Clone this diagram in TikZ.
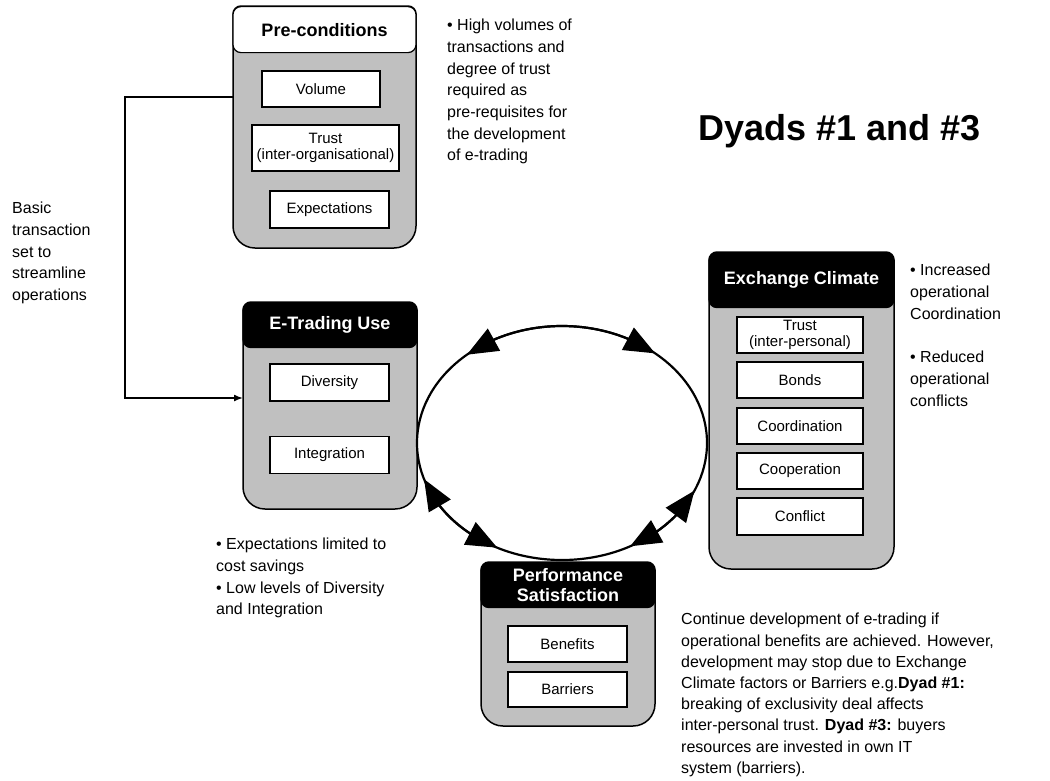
\documentclass[tikz,border=0pt]{standalone}
\usepackage{fontspec}
\setmainfont{Liberation Sans}
\usetikzlibrary{positioning, calc, arrows.meta, bending}
\definecolor{panelgray}{HTML}{C0C0C0}
\newcommand\panelshape[1]{\draw[panel] (#1.west) [rounded corners=8pt] -- (#1.north west) -- (#1.north east) -- (#1.east) [rounded corners=22pt] -- (#1.south east) -- (#1.south west) -- cycle;}

\begin{document}
\begin{tikzpicture}[x=1pt, y=-1pt,
	area/.style={inner sep=0pt, outer sep=0pt},
	panel/.style={draw, fill=panelgray, line width=1.5pt},
	head/.style={draw, fill=black, text=white, rounded corners=8pt, line width=1.2pt, inner sep=0pt, anchor=north, font=\bfseries\fontsize{18}{19.5}\selectfont, align=center},
	item/.style={draw, fill=white, line width=1.2pt, inner sep=0pt, font=\fontsize{15}{15.5}\selectfont, align=center},
	note/.style={anchor=north west, inner sep=0pt, align=left, font=\fontsize{16}{21.7}\selectfont},
	loopline/.style={line width=2.2pt},
	cyc/.style={loopline, {Triangle[length=31pt,width=25pt,flex]}-{Triangle[length=31pt,width=25pt,flex]}}]
	\useasboundingbox (0,0) rectangle (1050,780);

	% panels
	\node[area, minimum width=183, minimum height=242] (pre) at (324.5,127) {};
	\node[area, minimum width=174, minimum height=207] (etu) at (330,405.5) {};
	\node[area, minimum width=185, minimum height=317] (ec) at (801.5,410.5) {};
	\node[area, minimum width=174, minimum height=164] (ps) at (568,644) {};
	\panelshape{pre}
	\panelshape{etu}
	\panelshape{ec}
	\panelshape{ps}

	\node[head, fill=white, text=black, minimum width=183, minimum height=46] (preh) at (pre.north) {Pre-conditions};
	\node[head, minimum width=174, minimum height=45] (etuh) at (etu.north) {E-Trading Use};
	\node[head, minimum width=185, minimum height=55] (ech) at (ec.north) {Exchange Climate};
	\node[head, minimum width=174, minimum height=45] (psh) at (ps.north) {Performance\\Satisfaction};

	% items
	\node[item, minimum width=118, minimum height=36] (volume) at (321,89) {Volume};
	\node[item, minimum width=147, minimum height=46] (trusto) at (325.5,148) {Trust\\(inter-organisational)};
	\node[item, minimum width=119, minimum height=37] (expect) at (329.5,209.5) {Expectations};
	\node[item, minimum width=119, minimum height=37] (divers) at (329.5,382.5) {Diversity};
	\node[item, minimum width=119, minimum height=37] (integr) at (329.5,455) {Integration};
	\node[item, minimum width=126, minimum height=36] (trustp) at (800,335) {Trust\\(inter-personal)};
	\node[item, minimum width=126, minimum height=36] (bonds) at (800,380) {Bonds};
	\node[item, minimum width=126, minimum height=36] (coord) at (800,426) {Coordination};
	\node[item, minimum width=126, minimum height=36] (coop) at (800,471) {Cooperation};
	\node[item, minimum width=126, minimum height=37] (confl) at (800,516.5) {Conflict};
	\node[item, minimum width=119, minimum height=36] (benef) at (567.5,644) {Benefits};
	\node[item, minimum width=119, minimum height=35] (barr) at (567.5,689.5) {Barriers};

	% cycle
	\coordinate (ring) at (562,443);
	\draw[loopline] (ring) ellipse[x radius=145, y radius=117];
	\draw[cyc] ($(ring)+(-131:145 and 117)$) arc[start angle=-131, end angle=-50, x radius=145, y radius=117];
	\draw[cyc] ($(ring)+(162:145 and 117)$) arc[start angle=162, end angle=116.5, x radius=145, y radius=117];
	\draw[cyc] ($(ring)+(24:145 and 117)$) arc[start angle=24, end angle=62, x radius=145, y radius=117];

	% link
	\coordinate (tl) at (125,97);
	\coordinate (bl) at (125,398);
	\draw[line width=1.5pt, -{Latex[length=9pt,width=7pt]}] (tl -| pre.west) -- (tl) -- (bl) -- (bl -| etu.west);

	% notes
	\node[note] (basic) at (12,202) {Basic\\transaction\\set to\\streamline\\operations};
	\node[note] (high) at (447,19) {• High volumes of\\transactions and\\degree of trust\\required as\\pre-requisites for\\the development\\of e-trading};
	\node[anchor=north west, inner sep=0pt, font=\bfseries\fontsize{36}{40}\selectfont] (title) at (698,114) {Dyads \#1 and \#3};
	\node[note] (ecnote) at (910,264) {• Increased\\operational\\Coordination\\[21.7pt]• Reduced\\operational\\conflicts};
	\node[note] (etunote) at (216,538) {• Expectations limited to\\cost savings\\• Low levels of Diversity\\and Integration};
	\node[note, font=\fontsize{16}{21.2}\selectfont] (psnote) at (681,613) {Continue development of e-trading if\\operational benefits are achieved. However,\\development may stop due to Exchange\\Climate factors or Barriers e.g.\textbf{Dyad \#1:}\\breaking of exclusivity deal affects\\inter-personal trust. \textbf{Dyad \#3:} buyers\\resources are invested in own IT\\system (barriers).};
\end{tikzpicture}
\end{document}
